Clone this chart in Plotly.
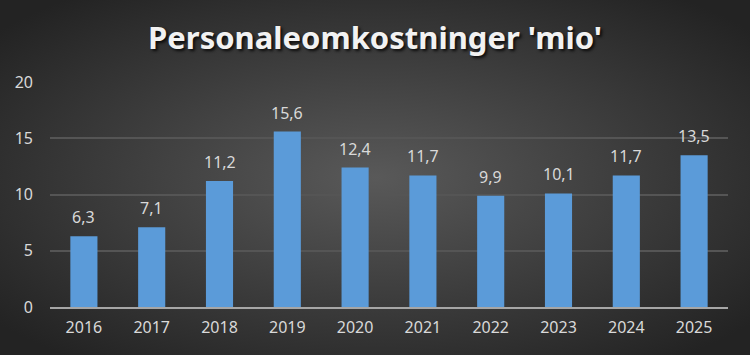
import base64
import plotly.graph_objects as go

years = ["2016", "2017", "2018", "2019", "2020", "2021", "2022", "2023", "2024", "2025"]
values = [6.3, 7.1, 11.2, 15.6, 12.4, 11.7, 9.9, 10.1, 11.7, 13.5]
y_ticks = [0, 5, 10, 15, 20]
title_text = "Personaleomkostninger 'mio'"

W, H = 750, 355
ml, mr, mt, mb = 50, 22, 82, 48
pw, ph = W - ml - mr, H - mt - mb

svg = f'''<svg xmlns="http://www.w3.org/2000/svg" width="{W}" height="{H}" viewBox="0 0 {W} {H}">
<defs><radialGradient id="g" cx="50%" cy="50%" r="65%" gradientUnits="objectBoundingBox">
<stop offset="0%" stop-color="#595959"/><stop offset="100%" stop-color="#232323"/></radialGradient></defs>
<rect width="{W}" height="{H}" fill="url(#g)"/></svg>'''
bg_src = "data:image/svg+xml;base64," + base64.b64encode(svg.encode()).decode()

fig = go.Figure()
fig.add_trace(go.Bar(
    x=years, y=values,
    marker=dict(color="#5b9bd9", line=dict(width=0)),
    width=0.4,
))

for i, v in enumerate(values):
    fig.add_annotation(x=i, y=v, text=f"{v:.1f}".replace(".", ","), showarrow=False,
                       yanchor="bottom", yshift=6,
                       font=dict(family="Noto Sans", size=16, color="#d9d9d9"))

fig.update_layout(
    width=W, height=H,
    margin=dict(l=ml, r=mr, t=mt, b=mb),
    paper_bgcolor="#333333",
    plot_bgcolor="rgba(0,0,0,0)",
    showlegend=False,
    title=dict(text=title_text, x=0.5, xref="container", xanchor="center", y=1 - 38 / H, yanchor="middle",
               font=dict(family="Noto Sans", size=31, color="#f2f2f2", weight="bold",
                         shadow="2px 2px 3px rgba(0,0,0,0.8)")),
    images=[dict(source=bg_src, xref="paper", yref="paper",
                 x=-ml / pw, y=1 + mt / ph, sizex=W / pw, sizey=H / ph,
                 xanchor="left", yanchor="top", sizing="stretch", layer="below")],
    xaxis=dict(type="category", categoryorder="array", categoryarray=years,
               range=[-0.5, len(years) - 0.5], autorange=False,
               showgrid=False, showline=True, linecolor="#a6a6a6", linewidth=2,
               ticks="", tickfont=dict(family="Noto Sans", size=16, color="#d9d9d9"), ticklabelstandoff=5),
    yaxis=dict(range=[0, 20], tickvals=y_ticks, showgrid=True, gridcolor="#555555", gridwidth=1.5,
               zeroline=False, showline=False, ticks="",
               tickfont=dict(family="Noto Sans", size=16, color="#d9d9d9"), ticklabelstandoff=16),
    bargap=0.6,
)

fig.write_html("out.html", config={"displayModeBar": False},
               post_script="document.body.style.margin='0';")
